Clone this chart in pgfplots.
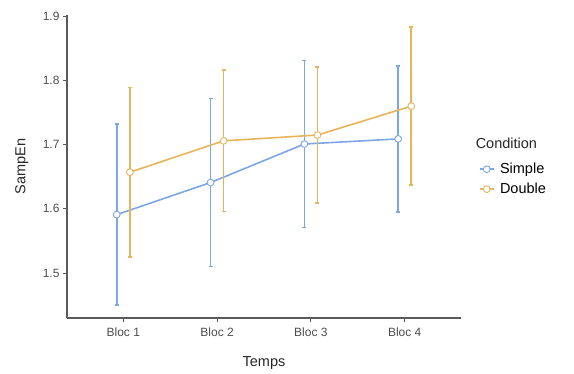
\documentclass[border=0pt]{standalone}
\usepackage{fontspec}
\setmainfont{Liberation Sans}
\usepackage{pgfplots}
\pgfplotsset{compat=1.18}
\definecolor{cblue}{RGB}{125,166,230}
\definecolor{corange}{RGB}{230,180,90}
\definecolor{tgray}{RGB}{77,77,77}
\definecolor{agray}{RGB}{90,90,90}
\begin{document}
\begin{tikzpicture}
\begin{axis}[
  scale only axis, width=394bp, height=303bp,
  at={(0,0)}, anchor=south west,
  xmin=0.4, xmax=4.6, ymin=1.43, ymax=1.902,
  axis lines*=left,
  axis line style={agray, line width=1.1bp},
  xtick={1,2,3,4}, xticklabels={Bloc 1,Bloc 2,Bloc 3,Bloc 4},
  ytick={1.5,1.6,1.7,1.8,1.9},
  yticklabel style={/pgf/number format/.cd, fixed, precision=1, fixed zerofill},
  /pgf/number format/assume math mode=true,
  tick style={agray, line width=1.1bp},
  tick align=outside, major tick length=4bp,
  ticklabel style={font=\fontsize{12bp}{13bp}\selectfont, text=tgray},
  xticklabel style={yshift=-2bp},
  xlabel={Temps}, ylabel={SampEn},
  label style={font=\fontsize{14.5bp}{16bp}\selectfont, text=black!85},
  xlabel style={at={(axis description cs:0.5,0)}, anchor=north, yshift=-35bp},
  ylabel style={at={(axis description cs:0,0.5)}, anchor=south, yshift=35bp},
  clip=false,
  legend style={at={(1.045,0.518)}, anchor=north west, draw=none, fill=none,
    font=\fontsize{14.5bp}{16bp}\selectfont, row sep=4bp, inner sep=0pt,
    nodes={inner xsep=5.5bp}},
  legend cell align=left,
  legend image code/.code={\draw[#1,mark repeat=2,mark phase=2] plot coordinates {(0bp,0bp) (7bp,0bp) (14bp,0bp)};},
  every axis plot/.append style={line width=1.6bp},
]
\addplot[cblue, mark=*, mark size=3.4bp, mark options={fill=white, line width=0.9bp},
  error bars/.cd, y dir=both, y explicit,
  error bar style={line width=1.6bp, cblue},
  error mark options={rotate=90, mark size=2bp, line width=1.6bp, cblue}]
  coordinates {
  (0.93,1.591) +- (0,0.141)
  (1.93,1.641) +- (0,0.131)
  (2.93,1.701) +- (0,0.130)
  (3.93,1.709) +- (0,0.114)
  };
\addlegendentry{Simple}
\addplot[corange, mark=*, mark size=3.4bp, mark options={fill=white, line width=0.9bp},
  error bars/.cd, y dir=both, y explicit,
  error bar style={line width=1.6bp, corange},
  error mark options={rotate=90, mark size=2bp, line width=1.6bp, corange}]
  coordinates {
  (1.07,1.657) +- (0,0.132)
  (2.07,1.706) +- (0,0.110)
  (3.07,1.715) +- (0,0.106)
  (4.07,1.760) +- (0,0.123)
  };
\addlegendentry{Double}
\node[anchor=south west, font=\fontsize{14.5bp}{16bp}\selectfont, text=black!85, inner sep=0pt]
  at (rel axis cs:1.037,0.557) {Condition};
\end{axis}
\pgfresetboundingbox
\path[use as bounding box] (-67bp,-56bp) rectangle (507bp,318bp);
\end{tikzpicture}
\end{document}
